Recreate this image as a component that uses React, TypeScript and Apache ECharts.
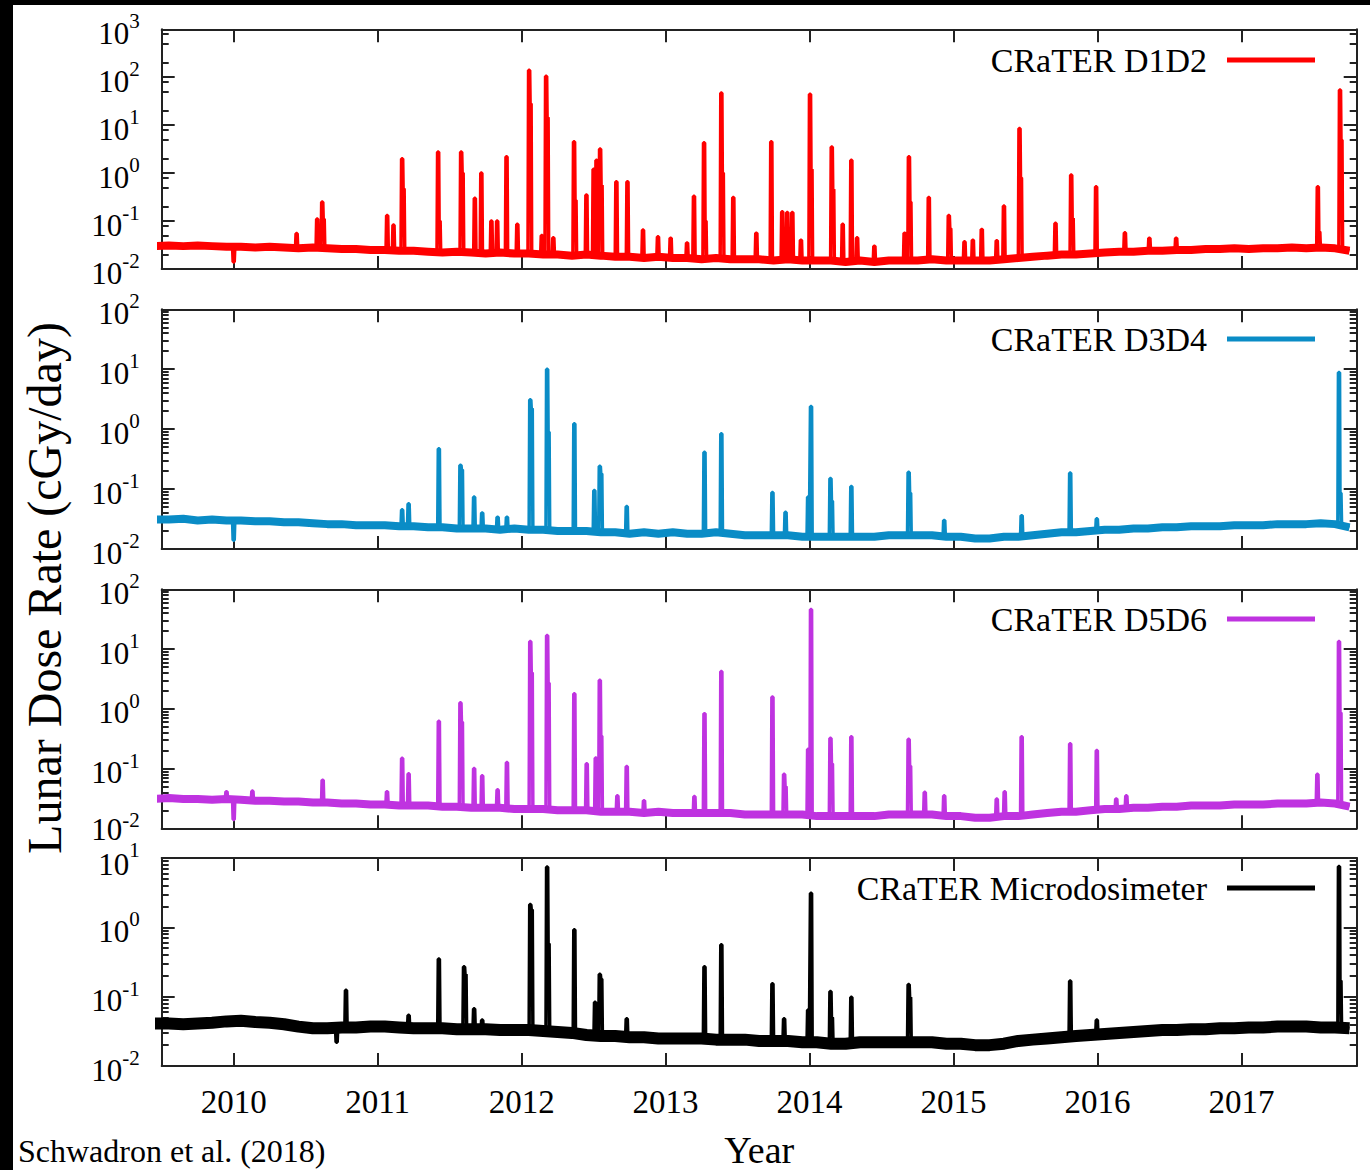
import React, { useEffect, useRef } from 'react';
import * as echarts from 'echarts';

// ---------------- data ----------------
const YEAR_TICKS = [2010, 2011, 2012, 2013, 2014, 2015, 2016, 2017];
const X_MIN = 2009.5;
const X_MAX = 2017.8;

// quiet-time baseline, one sample every 0.1 yr starting at 2009.45
const BASE_START = 2009.45;
const BASE_STEP = 0.1;

const SERIES_NAMES = ['CRaTER D1D2', 'CRaTER D3D4', 'CRaTER D5D6', 'CRaTER Microdosimeter'];
const Y_EXP_RANGES = [[-2, 3], [-2, 2], [-2, 2], [-2, 1]];

const D1D2_BASE = [
  0.030, 0.031, 0.030, 0.031, 0.030, 0.029, 0.029, 0.028, 0.029, 0.028,
  0.027, 0.028, 0.027, 0.026, 0.026, 0.025, 0.025, 0.024, 0.024, 0.023,
  0.022, 0.023, 0.022, 0.021, 0.022, 0.021, 0.021, 0.020, 0.020, 0.019,
  0.020, 0.019, 0.018, 0.018, 0.017, 0.018, 0.017, 0.017, 0.016, 0.017,
  0.016, 0.016, 0.016, 0.015, 0.016, 0.015, 0.015, 0.015, 0.014, 0.015,
  0.014, 0.015, 0.015, 0.015, 0.016, 0.015, 0.015, 0.015, 0.015, 0.016,
  0.017, 0.018, 0.019, 0.020, 0.020, 0.021, 0.022, 0.023, 0.023, 0.024,
  0.024, 0.025, 0.025, 0.026, 0.026, 0.027, 0.026, 0.027, 0.027, 0.028,
  0.027, 0.028, 0.027, 0.024,
];
const D3D4_BASE = [
  0.031, 0.031, 0.032, 0.030, 0.031, 0.030, 0.030, 0.029, 0.029, 0.028,
  0.028, 0.027, 0.026, 0.026, 0.025, 0.025, 0.025, 0.024, 0.024, 0.023,
  0.023, 0.022, 0.022, 0.022, 0.021, 0.022, 0.021, 0.021, 0.020, 0.020,
  0.020, 0.019, 0.019, 0.018, 0.019, 0.018, 0.019, 0.018, 0.018, 0.019,
  0.018, 0.017, 0.017, 0.017, 0.017, 0.016, 0.016, 0.016, 0.016, 0.016,
  0.016, 0.017, 0.017, 0.017, 0.017, 0.016, 0.016, 0.015, 0.015, 0.016,
  0.016, 0.017, 0.018, 0.019, 0.019, 0.020, 0.021, 0.021, 0.022, 0.022,
  0.023, 0.023, 0.024, 0.024, 0.024, 0.025, 0.025, 0.025, 0.026, 0.026,
  0.026, 0.027, 0.026, 0.023,
];
const D5D6_BASE = [
  0.031, 0.032, 0.031, 0.031, 0.030, 0.031, 0.030, 0.029, 0.029, 0.028,
  0.028, 0.027, 0.027, 0.026, 0.026, 0.025, 0.025, 0.024, 0.024, 0.024,
  0.023, 0.023, 0.022, 0.022, 0.022, 0.021, 0.021, 0.021, 0.020, 0.020,
  0.020, 0.019, 0.019, 0.019, 0.018, 0.019, 0.018, 0.018, 0.018, 0.018,
  0.018, 0.017, 0.017, 0.017, 0.017, 0.017, 0.016, 0.016, 0.016, 0.016,
  0.016, 0.017, 0.017, 0.017, 0.017, 0.016, 0.016, 0.015, 0.015, 0.016,
  0.016, 0.017, 0.018, 0.019, 0.019, 0.020, 0.021, 0.021, 0.022, 0.022,
  0.023, 0.023, 0.024, 0.024, 0.024, 0.025, 0.025, 0.025, 0.026, 0.026,
  0.026, 0.027, 0.026, 0.023,
];
const MICRO_BASE = [
  0.041, 0.041, 0.040, 0.041, 0.042, 0.044, 0.045, 0.043, 0.042, 0.040,
  0.037, 0.035, 0.035, 0.036, 0.036, 0.037, 0.037, 0.036, 0.035, 0.035,
  0.035, 0.034, 0.034, 0.034, 0.033, 0.033, 0.033, 0.032, 0.031, 0.030,
  0.028, 0.027, 0.027, 0.026, 0.026, 0.025, 0.025, 0.025, 0.025, 0.024,
  0.024, 0.024, 0.023, 0.023, 0.023, 0.022, 0.022, 0.021, 0.021, 0.022,
  0.022, 0.022, 0.022, 0.022, 0.022, 0.021, 0.021, 0.020, 0.020, 0.021,
  0.023, 0.024, 0.025, 0.026, 0.027, 0.028, 0.029, 0.030, 0.031, 0.032,
  0.033, 0.033, 0.034, 0.034, 0.035, 0.035, 0.036, 0.036, 0.037, 0.037,
  0.037, 0.036, 0.036, 0.035,
];

// solar particle events: [year, peak dose rate, optional decay shoulder]
const D1D2_EVENTS = [
  [2010.0, 0.014], [2010.437, 0.055], [2010.58, 0.11], [2010.615, 0.25, 0.11],
  [2011.066, 0.13], [2011.11, 0.083], [2011.17, 2.0, 0.47], [2011.42, 2.75, 0.1],
  [2011.58, 2.75, 1.0], [2011.675, 0.3], [2011.72, 1.0], [2011.79, 0.1], [2011.83, 0.1],
  [2011.895, 2.2], [2011.97, 0.086], [2012.052, 140, 28], [2012.14, 0.05],
  [2012.17, 105, 14.5], [2012.22, 0.045], [2012.364, 4.5, 0.27], [2012.45, 0.35],
  [2012.5, 1.2], [2012.52, 1.86], [2012.545, 3.2, 0.56], [2012.658, 0.66], [2012.735, 0.66],
  [2012.843, 0.065], [2012.947, 0.047], [2013.035, 0.044], [2013.149, 0.035],
  [2013.197, 0.33], [2013.267, 4.3, 0.1], [2013.387, 47, 1.0], [2013.47, 0.31],
  [2013.63, 0.056], [2013.734, 4.5], [2013.81, 0.156], [2013.845, 0.15], [2013.88, 0.15],
  [2013.94, 0.04], [2014.003, 44, 1.2], [2014.154, 3.5, 0.46], [2014.23, 0.086],
  [2014.29, 1.86], [2014.33, 0.045], [2014.45, 0.03], [2014.66, 0.056], [2014.69, 2.2, 0.25],
  [2014.828, 0.31], [2014.967, 0.13, 0.07], [2015.076, 0.037], [2015.134, 0.04],
  [2015.196, 0.067], [2015.3, 0.039], [2015.35, 0.205], [2015.458, 8.5, 0.8],
  [2015.708, 0.09], [2015.817, 0.91, 0.115], [2015.99, 0.52], [2016.19, 0.057],
  [2016.36, 0.044], [2016.546, 0.044], [2017.53, 0.52, 0.06], [2017.684, 54, 4.9],
];
const D3D4_EVENTS = [
  [2010.0, 0.014], [2011.17, 0.045], [2011.215, 0.057], [2011.425, 0.47],
  [2011.575, 0.25, 0.21], [2011.67, 0.074], [2011.726, 0.04], [2011.833, 0.034],
  [2011.898, 0.034], [2012.06, 3.08, 2.2], [2012.177, 10, 0.9], [2012.366, 1.23],
  [2012.505, 0.095], [2012.543, 0.24, 0.18], [2012.73, 0.051], [2013.27, 0.41],
  [2013.387, 0.84], [2013.742, 0.088], [2013.833, 0.041], [2013.99, 0.074],
  [2014.01, 2.39], [2014.145, 0.15, 0.063], [2014.29, 0.11], [2014.688, 0.19, 0.086],
  [2014.935, 0.03], [2015.473, 0.036], [2015.81, 0.185], [2015.995, 0.032],
  [2017.677, 8.8, 0.086],
];
const D5D6_EVENTS = [
  [2009.95, 0.041], [2010.0, 0.014], [2010.13, 0.042], [2010.618, 0.064],
  [2011.065, 0.041], [2011.17, 0.149], [2011.215, 0.082], [2011.425, 0.62],
  [2011.575, 1.26, 0.6], [2011.67, 0.1], [2011.726, 0.076], [2011.833, 0.044],
  [2011.898, 0.126], [2012.06, 13.4, 4], [2012.177, 16.9, 2.7], [2012.366, 1.78],
  [2012.452, 0.12], [2012.515, 0.15], [2012.543, 3.0, 0.35], [2012.665, 0.035],
  [2012.73, 0.108], [2012.85, 0.029], [2013.2, 0.034], [2013.27, 0.83], [2013.387, 4.2],
  [2013.742, 1.58], [2013.823, 0.08, 0.05], [2013.99, 0.21], [2014.01, 46],
  [2014.145, 0.32, 0.12], [2014.29, 0.34], [2014.688, 0.31, 0.11], [2014.8, 0.04],
  [2014.935, 0.035], [2015.3, 0.031], [2015.355, 0.041], [2015.473, 0.34],
  [2015.81, 0.26], [2015.995, 0.2], [2016.13, 0.031], [2016.2, 0.035],
  [2017.527, 0.08], [2017.677, 13.4, 0.86],
];
const MICRO_EVENTS = [
  [2010.715, 0.022], [2010.78, 0.124], [2011.215, 0.054], [2011.425, 0.35],
  [2011.6, 0.27, 0.21], [2011.67, 0.067], [2011.726, 0.046], [2012.06, 2.13, 1.8],
  [2012.177, 7.4, 0.58], [2012.366, 0.92], [2012.51, 0.083], [2012.543, 0.21, 0.18],
  [2012.73, 0.048], [2013.27, 0.27], [2013.387, 0.56], [2013.742, 0.154],
  [2013.823, 0.048], [2013.99, 0.064], [2014.01, 3.11], [2014.145, 0.119, 0.05],
  [2014.29, 0.098], [2014.688, 0.15, 0.098], [2015.81, 0.168], [2015.995, 0.046],
  [2017.677, 7.55, 0.17],
];

const BASES = [D1D2_BASE, D3D4_BASE, D5D6_BASE, MICRO_BASE];
const EVENTS = [D1D2_EVENTS, D3D4_EVENTS, D5D6_EVENTS, MICRO_EVENTS];

// ---------------- styling ----------------
const COLORS = ['#ff0000', '#0a8cc6', '#bf33e0', '#000000'];
const BAND_WIDTHS = [8, 8, 8, 12];
const MINOR_KS = [[2, 5, 8], [2, 3, 4, 5, 6, 7, 8, 9], [2, 3, 4, 5, 6, 7, 8, 9], [2, 3, 4, 5, 6, 7, 8, 9]];
const GRID_TOPS = [24.3, 304.3, 584.3, 853];
const GRID_HEIGHTS = [239.7, 239.7, 239, 210.3];
const LEGEND_TOPS = [33, 312, 592, 861];
const FONT = 'Liberation Serif, Times New Roman, serif';
const AXIS_COLOR = '#222';

function baselinePoints(base: number[]) {
  return base.map((v, i) => [BASE_START + i * BASE_STEP, v]);
}

function fullPoints(base: number[], events: number[][]) {
  const pts: number[][] = [];
  base.forEach((v, i) => {
    const t = BASE_START + i * BASE_STEP;
    if (events.some((e) => Math.abs(e[0] - t) < 0.025)) return;
    pts.push([t, v]);
  });
  events.forEach((e) => {
    const t = e[0];
    const peak = e[1];
    const after = e[2];
    const idx = Math.min(Math.max(Math.round((t - BASE_START) / BASE_STEP), 0), base.length - 1);
    const foot = base[idx];
    pts.push([t - 0.008, foot], [t - 0.004, peak], [t + 0.004, peak]);
    if (after !== undefined) {
      pts.push([t + 0.007, after], [t + 0.014, after], [t + 0.018, foot]);
    } else {
      pts.push([t + 0.008, foot]);
    }
  });
  pts.sort((a, b) => a[0] - b[0]);
  return pts;
}

function decades(r: number[]) {
  const out: number[] = [];
  for (let e = r[0]; e <= r[1]; e++) out.push(Math.pow(10, e));
  return out;
}
function minors(r: number[], ks: number[]) {
  const out: number[] = [];
  for (let e = r[0]; e < r[1]; e++) for (const k of ks) out.push(k * Math.pow(10, e));
  return out;
}

const labelRich = {
  b: { fontSize: 31, fontFamily: FONT, color: '#000', padding: [8, 0, 0, 0] },
  b0: { fontSize: 31, fontFamily: FONT, color: '#000', padding: [2, 0, 0, 0] },
  b2: { fontSize: 31, fontFamily: FONT, color: '#000', padding: [12, 0, 0, 0] },
  s: { fontSize: 21, fontFamily: FONT, color: '#000', padding: [0, 0, 16, 0] },
};

function buildOption() {
  const grid: any[] = [];
  const xAxis: any[] = [];
  const yAxis: any[] = [];
  const series: any[] = [];
  const legend: any[] = [];
  const axisLine = { show: true, onZero: false, lineStyle: { color: AXIS_COLOR, width: 2 } };
  const tickLine = { color: AXIS_COLOR, width: 2 };

  for (let g = 0; g < 4; g++) {
    grid.push({ left: 148.7, right: 13.3, top: GRID_TOPS[g], height: GRID_HEIGHTS[g] });
    ['bottom', 'top'].forEach((pos) => {
      const isLabelAxis = pos === 'bottom' && g === 3;
      xAxis.push({
        type: 'value', gridIndex: g, position: pos, min: X_MIN, max: X_MAX,
        axisLine,
        axisTick: { show: true, inside: true, length: 13, customValues: YEAR_TICKS, lineStyle: tickLine },
        axisLabel: {
          show: isLabelAxis, customValues: YEAR_TICKS, margin: 19,
          fontSize: 33, fontFamily: FONT, color: '#000', formatter: (v: number) => String(v),
        },
        splitLine: { show: false },
        name: isLabelAxis ? 'Year' : '',
        nameLocation: 'middle', nameGap: 65,
        nameTextStyle: { fontSize: 38, fontFamily: FONT, color: '#000' },
      });
    });
    const r = Y_EXP_RANGES[g];
    const dec = decades(r);
    const mins = minors(r, MINOR_KS[g]);
    const common = { type: 'log', logBase: 10, gridIndex: g, min: Math.pow(10, r[0]), max: Math.pow(10, r[1]), splitLine: { show: false } };
    ['left', 'right'].forEach((pos) => {
      yAxis.push({
        ...common, position: pos, axisLine,
        axisTick: { show: true, inside: true, length: 13, customValues: dec, lineStyle: tickLine },
        axisLabel: {
          show: pos === 'left', customValues: dec, margin: 22,
          formatter: (v: number) => {
            const e = Math.round(Math.log10(v));
            // keep the crowded labels between panels 3 and 4 apart
            let style = 'b';
            if (g === 2 && e === r[0]) style = 'b0';
            if (g === 3 && e === r[1]) style = 'b2';
            return `{${style}|10}{s|${e}}`;
          },
          rich: labelRich,
        },
      });
      yAxis.push({
        ...common, position: pos, axisLine: { show: false },
        axisTick: { show: true, inside: true, length: 7, customValues: mins, lineStyle: tickLine },
        axisLabel: { show: false },
      });
    });

    const base = BASES[g];
    const ev = EVENTS[g];
    series.push({
      name: SERIES_NAMES[g] + ' baseline', type: 'line', xAxisIndex: 2 * g, yAxisIndex: 4 * g,
      data: baselinePoints(base), symbol: 'none', showSymbol: false, silent: true,
      lineStyle: { color: COLORS[g], width: BAND_WIDTHS[g] }, itemStyle: { color: COLORS[g] },
    });
    series.push({
      name: SERIES_NAMES[g], type: 'line', xAxisIndex: 2 * g, yAxisIndex: 4 * g,
      data: fullPoints(base, ev), symbol: 'none', showSymbol: false, silent: true,
      lineStyle: { color: COLORS[g], width: 3.5 }, itemStyle: { color: COLORS[g] },
    });
    legend.push({
      data: [{ name: SERIES_NAMES[g], icon: 'rect' }],
      right: 50, top: LEGEND_TOPS[g], align: 'right', selectedMode: false,
      itemWidth: 88, itemHeight: 5,
      textStyle: { fontSize: 34, fontFamily: FONT, color: '#000', padding: [0, 15, 0, 0] },
    });
  }

  return {
    animation: false,
    backgroundColor: '#ffffff',
    grid, xAxis, yAxis, series, legend,
    graphic: [
      {
        type: 'text', x: 31, y: 583, rotation: Math.PI / 2,
        style: { text: 'Lunar Dose Rate (cGy/day)', font: `48px ${FONT}`, fill: '#000', textAlign: 'center', textVerticalAlign: 'middle' },
      },
      {
        type: 'text', x: 5, y: 1146,
        style: { text: 'Schwadron et al. (2018)', font: `32px ${FONT}`, fill: '#000', textAlign: 'left', textVerticalAlign: 'middle' },
      },
    ],
  };
}

export default function App() {
  const ref = useRef<HTMLDivElement>(null);
  useEffect(() => {
    if (!ref.current) return;
    const chart = echarts.init(ref.current, undefined, { renderer: 'svg' });
    chart.setOption(buildOption() as any);
    return () => chart.dispose();
  }, []);
  return (
    <div style={{ position: 'absolute', left: 0, top: 0, width: 1370, height: 1170, background: '#000' }}>
      <div ref={ref} style={{ position: 'absolute', left: 13, top: 5, width: 1357, height: 1165, background: '#fff' }} />
    </div>
  );
}
